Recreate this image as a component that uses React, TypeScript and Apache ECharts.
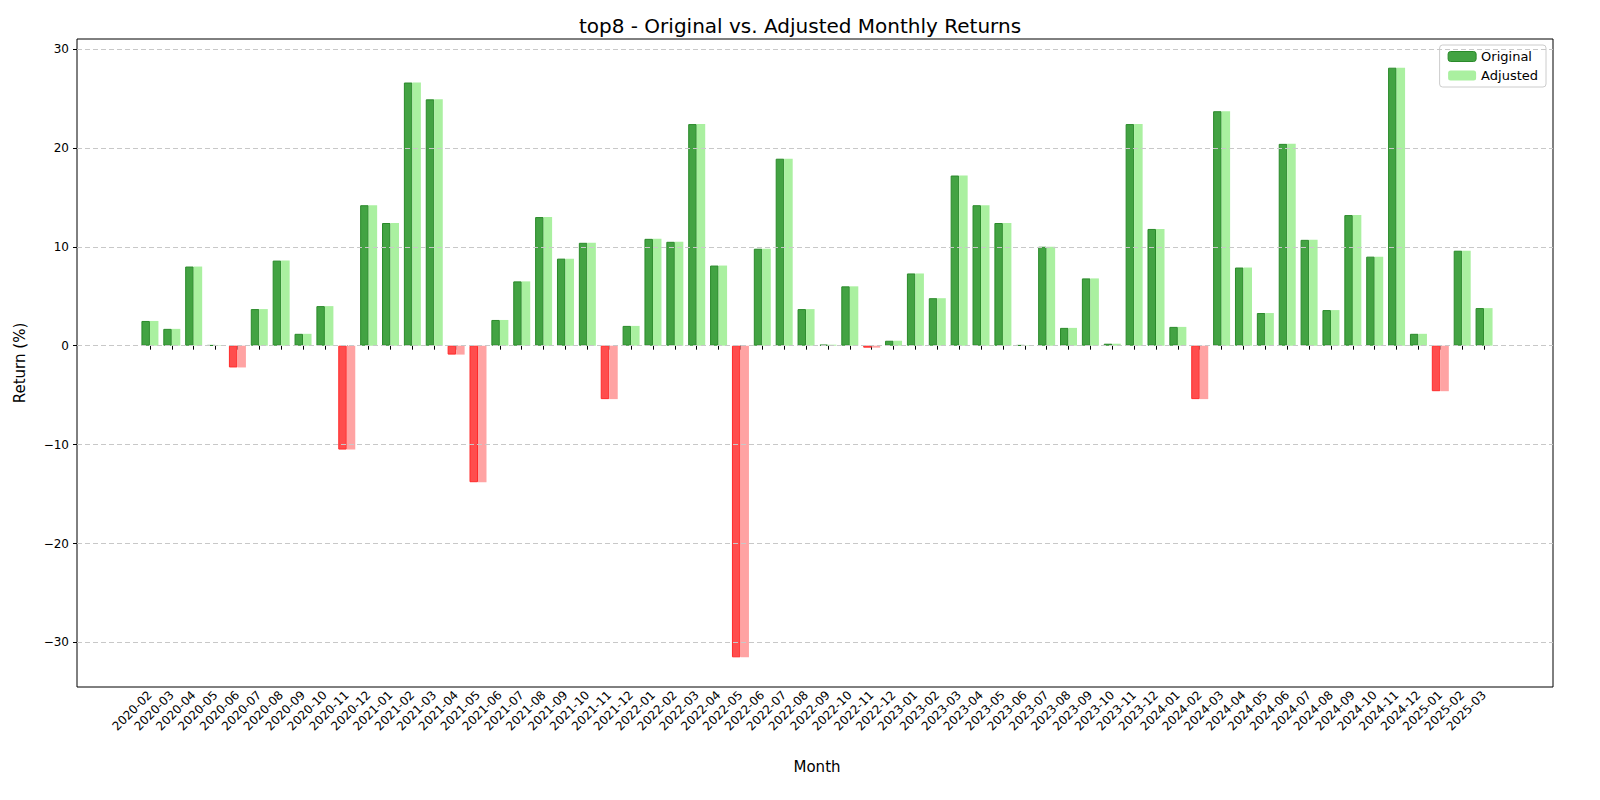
import React, { useEffect, useRef } from "react";
import * as echarts from "echarts";

const months: string[] = [];
for (let y = 2020; y <= 2025; y++) for (let m = 1; m <= 12; m++) {
  if ((y === 2020 && m < 2) || (y === 2025 && m > 3)) continue;
  months.push(`${y}-${String(m).padStart(2, "0")}`);
}
const original = [2.5, 1.7, 8.0, 0.05, -2.2, 3.7, 8.6, 1.2, 4.0, -10.5, 14.2, 12.4, 26.6, 24.9, -0.9, -13.8, 2.6, 6.5, 13.0, 8.8, 10.4, -5.4, 2.0, 10.8, 10.5, 22.4, 8.1, -31.5, 9.8, 18.9, 3.7, 0.1, 6.0, -0.2, 0.5, 7.3, 4.8, 17.2, 14.2, 12.4, 0.05, 10.0, 1.8, 6.8, 0.2, 22.4, 11.8, 1.9, -5.4, 23.7, 7.9, 3.3, 20.4, 10.7, 3.6, 13.2, 9.0, 28.1, 1.2, -4.6, 9.6, 3.8];
const adjusted = original.slice();
const yTicks = [-30, -20, -10, 0, 10, 20, 30];
const YMIN = -34.5, YMAX = 31;
const FONT = "DejaVu Sans";

export default function App() {
  const ref = useRef<HTMLDivElement>(null);
  useEffect(() => {
    const chart = echarts.init(ref.current!, undefined, { renderer: "svg" });
    const top = 39, bottom = 113;
    chart.setOption({
      animation: false,
      textStyle: { fontFamily: FONT },
      title: { text: "top8 - Original vs. Adjusted Monthly Returns", left: "center", top: 11, textStyle: { fontSize: 20, fontWeight: "normal", color: "#000", fontFamily: FONT } },
      legend: {
        right: 54, top: 45, orient: "vertical", itemWidth: 28, itemHeight: 10, itemGap: 6,
        borderColor: "#ccc", borderWidth: 1, borderRadius: 3, padding: [5, 8],
        textStyle: { fontSize: 13, color: "#000" },
        data: [
          { name: "Original", itemStyle: { color: "#43a343", borderColor: "#2a8a2a", borderWidth: 1 } },
          { name: "Adjusted", itemStyle: { color: "#aaf0a0" } },
        ],
      },
      grid: [
        { left: 77, right: 47, top, bottom, show: true, borderColor: "#000", borderWidth: 1, backgroundColor: "transparent" },
        { left: 139, right: 105, top, bottom },
      ],
      xAxis: [
        { type: "category", gridIndex: 0, data: ["a"], show: false },
        {
          type: "category", gridIndex: 1, data: months, name: "Month", nameLocation: "middle", nameGap: 72,
          nameTextStyle: { fontSize: 15, color: "#000" },
          axisLine: { show: false }, axisTick: { show: true, alignWithLabel: true, length: 4, lineStyle: { color: "#000" } },
          axisLabel: { rotate: 45, interval: 0, fontSize: 12, color: "#000", margin: 6 },
        },
      ],
      yAxis: [
        {
          type: "value", gridIndex: 0, min: YMIN, max: YMAX, name: "Return (%)", nameLocation: "middle", nameGap: 50,
          nameTextStyle: { fontSize: 15, color: "#000" },
          axisLine: { show: false }, splitLine: { show: false },
          axisTick: { show: true, length: 4, customValues: yTicks, lineStyle: { color: "#000" } },
          axisLabel: { customValues: yTicks, fontSize: 12, color: "#000", formatter: (v: number) => (v < 0 ? "\u2212" + Math.abs(v) : String(v)) },
        },
        { type: "value", gridIndex: 1, min: YMIN, max: YMAX, show: false },
      ],
      series: [
        {
          type: "line", xAxisIndex: 0, yAxisIndex: 0, data: [], silent: true,
          markLine: { silent: true, symbol: "none", label: { show: false }, lineStyle: { type: [5, 3], color: "#c8c8c8", width: 1 }, data: yTicks.map((v) => ({ yAxis: v })) },
        },
        {
          name: "Original", type: "bar", xAxisIndex: 1, yAxisIndex: 1, barWidth: 8.5, barGap: "0%",
          data: original.map((v) => ({ value: v, itemStyle: v >= 0 ? { color: "#43a343", borderColor: "#2a8a2a", borderWidth: 1 } : { color: "#ff4d4d", borderColor: "#ff2a2a", borderWidth: 1 } })),
        },
        {
          name: "Adjusted", type: "bar", xAxisIndex: 1, yAxisIndex: 1, barWidth: 8.5, barGap: "0%",
          data: adjusted.map((v) => ({ value: v, itemStyle: { color: v >= 0 ? "#aaf0a0" : "#ffa3a3" } })),
        },
      ],
    });
    return () => chart.dispose();
  }, []);
  return <div ref={ref} style={{ position: "fixed", left: 0, top: 0, width: 1600, height: 800, background: "#fff" }} />;
}
